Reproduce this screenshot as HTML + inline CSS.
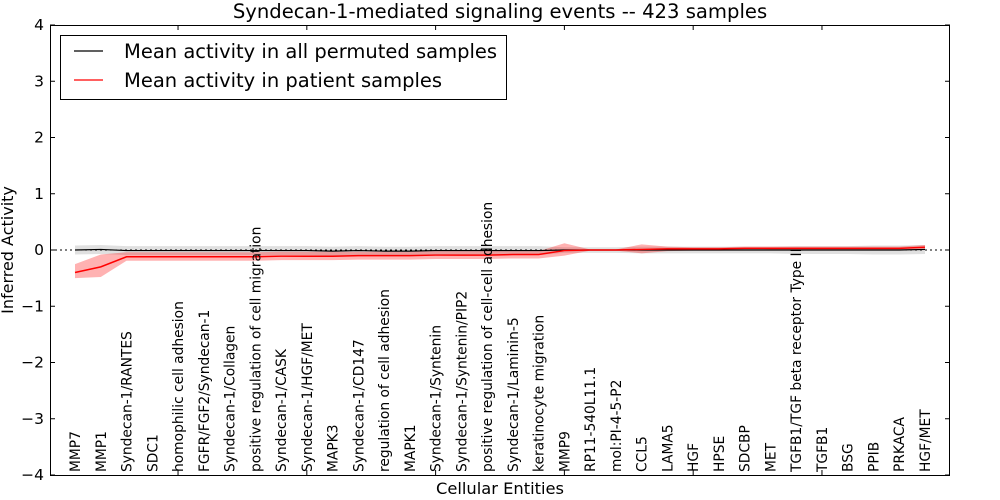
<!DOCTYPE html>
<html><head><meta charset="utf-8"><style>
body{margin:0;background:#fff;}
svg{display:block;font-family:"DejaVu Sans","Liberation Sans",sans-serif;}
</style></head><body>
<svg id="chart" width="1000" height="500">
<rect width="1000" height="500" fill="#fff"/>
<g id="bands"></g><g id="lines"></g><g id="labels"></g><g id="axes"></g>
<text x="500" y="18" text-anchor="middle" font-size="19.6">Syndecan-1-mediated signaling events -- 423 samples</text>
<text x="500" y="494" text-anchor="middle" font-size="16.3">Cellular Entities</text>
<text transform="translate(13,250) rotate(-90)" text-anchor="middle" font-size="16">Inferred Activity</text>
<g>
<rect x="60.5" y="35.5" width="446" height="64" fill="#fff" stroke="#000"/>
<line x1="74" y1="51" x2="103" y2="51" stroke="#000" stroke-width="1.2"/>
<text x="124" y="58" font-size="19.5">Mean activity in all permuted samples</text>
<line x1="74" y1="80" x2="103" y2="80" stroke="red" stroke-width="1.2"/>
<text x="124" y="87" font-size="19.5">Mean activity in patient samples</text>
</g>
</svg>
<script>
const categories=["MMP7","MMP1","Syndecan-1/RANTES","SDC1","homophilic cell adhesion","FGFR/FGF2/Syndecan-1","Syndecan-1/Collagen","positive regulation of cell migration","Syndecan-1/CASK","Syndecan-1/HGF/MET","MAPK3","Syndecan-1/CD147","regulation of cell adhesion","MAPK1","Syndecan-1/Syntenin","Syndecan-1/Syntenin/PIP2","positive regulation of cell-cell adhesion","Syndecan-1/Laminin-5","keratinocyte migration","MMP9","RP11-540L11.1","mol:PI-4-5-P2","CCL5","LAMA5","HGF","HPSE","SDCBP","MET","TGFB1/TGF beta receptor Type II","TGFB1","BSG","PPIB","PRKACA","HGF/MET"];
const patientMean=[-0.4,-0.3,-0.12,-0.12,-0.12,-0.12,-0.12,-0.12,-0.11,-0.11,-0.11,-0.1,-0.1,-0.1,-0.09,-0.09,-0.09,-0.08,-0.08,-0.01,0,0,0.01,0.02,0.02,0.02,0.03,0.03,0.03,0.03,0.03,0.03,0.03,0.05];
const patientLow=[-0.5,-0.48,-0.19,-0.19,-0.19,-0.19,-0.19,-0.19,-0.18,-0.18,-0.18,-0.17,-0.17,-0.17,-0.16,-0.16,-0.16,-0.15,-0.15,-0.1,-0.01,-0.01,-0.06,-0.02,-0.01,-0.01,0,0,0,0,0,0,0,0.01];
const patientHigh=[-0.25,-0.08,-0.04,-0.04,-0.04,-0.04,-0.04,-0.04,-0.03,-0.03,-0.03,-0.03,-0.03,-0.03,-0.02,-0.02,-0.02,-0.02,-0.02,0.12,0.01,0.01,0.1,0.06,0.05,0.05,0.06,0.06,0.06,0.06,0.06,0.06,0.06,0.09];
const permMean=[0,0.01,-0.01,-0.01,-0.01,-0.01,-0.01,-0.01,-0.01,-0.01,-0.02,-0.01,-0.02,-0.02,-0.01,-0.01,-0.01,-0.01,-0.01,0,0,0,0,0,0,0,0,0,0,0,0,0,0,0.01];
const permSpread=[0.08,0.08,0.08,0.08,0.08,0.08,0.08,0.08,0.08,0.08,0.08,0.08,0.08,0.08,0.08,0.08,0.08,0.08,0.08,0.05,0.05,0.05,0.06,0.06,0.06,0.06,0.06,0.06,0.07,0.07,0.07,0.08,0.08,0.08];
const yTicks=[-4,-3,-2,-1,0,1,2,3,4];
const xTickIdx=[4,9,14,19,24,29];
const L=50,R=950,T=25,B=475;
const xs=i=>75+i*(850/(categories.length-1));
const ys=v=>B-(v+4)*(B-T)/8;
const NS="http://www.w3.org/2000/svg";
function mk(tag,attrs,parent){const e=document.createElementNS(NS,tag);for(const k in attrs)e.setAttribute(k,attrs[k]);document.getElementById(parent).appendChild(e);return e;}
function band(lo,hi){let d="";lo.forEach((v,i)=>d+=(i?"L":"M")+xs(i)+","+ys(v));for(let i=hi.length-1;i>=0;i--)d+="L"+xs(i)+","+ys(hi[i]);return d+"Z";}
function line(a){return a.map((v,i)=>(i?"L":"M")+xs(i)+","+ys(v)).join("");}
let e=mk("path",{d:band(permMean.map((m,i)=>m-permSpread[i]),permMean.map((m,i)=>m+permSpread[i])),fill:"#000","fill-opacity":"0.12"},"bands");


e=mk("path",{d:band(patientLow,patientHigh),fill:"red","fill-opacity":"0.3"},"bands");


e=mk("path",{d:line(permMean),fill:"none",stroke:"#000","stroke-width":"1.2"},"lines");


e=mk("path",{d:"M"+L+","+ys(0)+"L"+R+","+ys(0),stroke:"#000","stroke-dasharray":"2,3","stroke-width":"1"},"lines");


e=mk("path",{d:line(patientMean),fill:"none",stroke:"red","stroke-width":"1.5"},"lines");


categories.forEach((c,i)=>{
 const t=mk("text",{transform:`translate(${xs(i)+5},472) rotate(-90)`,"font-size":"13.8"},"labels");
 t.textContent=c;
 
 
});
e=mk("rect",{x:L+0.5,y:T+0.5,width:R-L-1,height:B-T,fill:"none",stroke:"#000"},"axes");


yTicks.forEach(v=>{
 mk("line",{x1:L,x2:L+5,y1:ys(v),y2:ys(v),stroke:"#000"},"axes");
 mk("line",{x1:R-5,x2:R,y1:ys(v),y2:ys(v),stroke:"#000"},"axes");
 const t=mk("text",{x:L-6,y:ys(v)+5,"text-anchor":"end","font-size":"15.5"},"axes");
 t.textContent=v<0?"\u2212"+(-v):String(v);
 
 
});
xTickIdx.forEach(i=>{
 mk("line",{x1:xs(i),x2:xs(i),y1:T,y2:T+5,stroke:"#000"},"axes");
 mk("line",{x1:xs(i),x2:xs(i),y1:B-5,y2:B,stroke:"#000"},"axes");
});
</script>
</body></html>
